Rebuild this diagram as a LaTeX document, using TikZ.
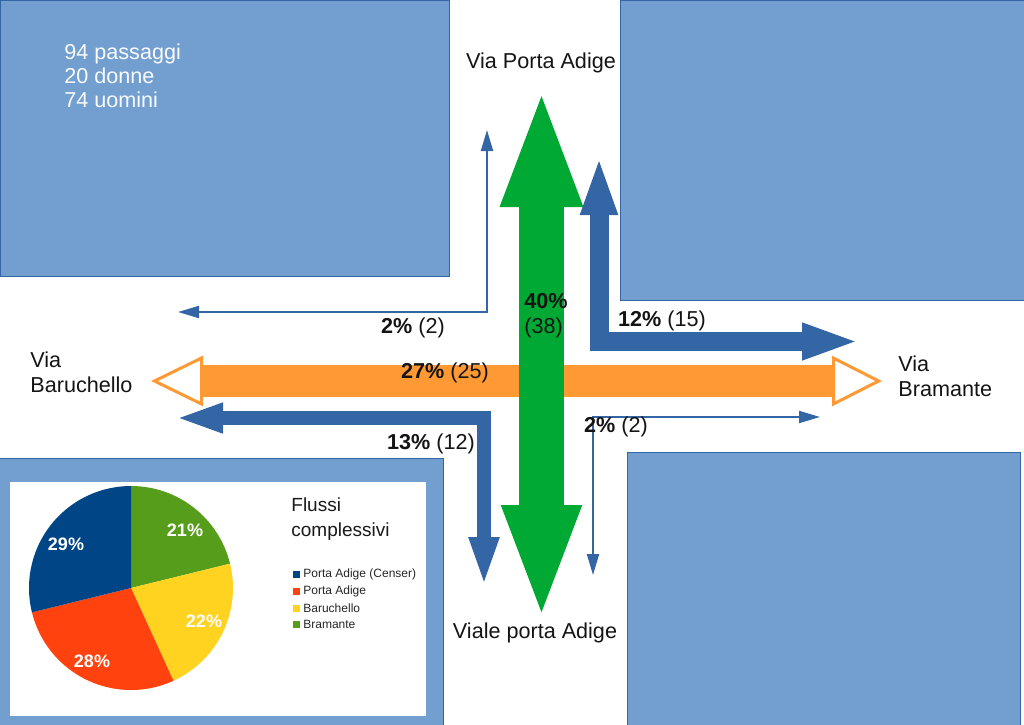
\documentclass[tikz,border=0pt]{standalone}
\usepackage{fontspec}
\setmainfont{Liberation Sans}
\usetikzlibrary{arrows.meta}

\definecolor{blockblue}{HTML}{729FCF}
\definecolor{edgeblue}{HTML}{3465A4}
\definecolor{flowblue}{HTML}{3465A4}
\definecolor{floworange}{HTML}{FF9933}
\definecolor{flowgreen}{HTML}{00A933}
\definecolor{pieblue}{HTML}{004586}
\definecolor{piered}{HTML}{FF420E}
\definecolor{pieyellow}{HTML}{FFD320}
\definecolor{piegreen}{HTML}{579D1C}

\begin{document}
\begin{tikzpicture}[x=0.5pt,y=-0.5pt,
    block/.style={fill=blockblue,draw=edgeblue,line width=0.5pt},
    street/.style={inner sep=0pt,align=left,text=black!92,font=\fontsize{10.8}{12.5}\selectfont},
    share/.style={inner sep=0pt,align=left,text=black!92,font=\fontsize{10.8}{12.5}\selectfont},
    slice/.style={inner sep=0pt,text=white,font=\fontsize{9}{10}\selectfont\bfseries},
    key/.style={inner sep=0pt,anchor=west,text=black!85,font=\fontsize{6}{7}\selectfont},
    thinflow/.style={draw=flowblue,line width=1pt,line join=miter,
      {Triangle[length=10.5pt,width=6pt]}-{Triangle[length=10.5pt,width=6pt]}}]
  \useasboundingbox (0,0) rectangle (1024,724);

  % blocks
  \path[block] (0,0) rectangle (449,276);
  \path[block] (620,0) rectangle (1030,300);
  \path[block] (627,452) rectangle (1020,730);
  \path[block] (-5,458) rectangle (443,730);
  \node[inner sep=0pt,anchor=west,align=left,text=white!96!blockblue,
    font=\fontsize{10.8}{12}\selectfont] (tot) at (64,76)
    {94 passaggi\\20 donne\\74 uomini};

  % pie chart
  \fill[white] (10,482) rectangle (426,716);
  \foreach \a/\b/\c in {-90/-13.8/piegreen,-13.8/65.4/pieyellow,
      65.4/166.2/piered,166.2/270/pieblue}
    \fill[\c] (131,588) -- ++(\a:102) arc[start angle=\a,end angle=\b,radius=102] -- cycle;
  \node[slice] (p1) at (66,544) {29\%};
  \node[slice] (p2) at (185,530) {21\%};
  \node[slice] (p3) at (204,621) {22\%};
  \node[slice] (p4) at (92,661) {28\%};
  \node[inner sep=0pt,anchor=west,align=left,text=black!90,
    font=\fontsize{9.5}{12.5}\selectfont] (title) at (291,519.5) {Flussi\\complessivi};
  \fill[pieblue] (293,571) rectangle (300,578);
  \node[key] (k1) at (303,574) {Porta Adige (Censer)};
  \fill[piered] (293,588) rectangle (300,595);
  \node[key] (k2) at (303,591) {Porta Adige};
  \fill[pieyellow] (293,605) rectangle (300,612);
  \node[key] (k3) at (303,608) {Baruchello};
  \fill[piegreen] (293,621) rectangle (300,628);
  \node[key] (k4) at (303,624.5) {Bramante};

  % flow ends
  \coordinate (ow) at (151,381);
  \coordinate (oe) at (882,381);
  \coordinate (gn) at (541.5,87);
  \coordinate (gs) at (541.5,621);
  \coordinate (an) at (599,155);
  \coordinate (ac) at (599,341.5);
  \coordinate (ae) at (860,341.5);
  \coordinate (bw) at (175,418);
  \coordinate (bc) at (484,418);
  \coordinate (bs) at (484,587);
  \coordinate (cw) at (178,312);
  \coordinate (cc) at (487,312);
  \coordinate (cn) at (487,130);
  \coordinate (de) at (820,417);
  \coordinate (dc) at (593,417);
  \coordinate (ds) at (593,575);

  % flows
  \draw[floworange,line width=16pt,
    {Triangle[open,fill=white,length=26pt,width=25pt,line width=1.5pt]}-{Triangle[open,fill=white,length=25pt,width=25pt,line width=1.5pt]}]
    (ow) -- (oe);
  \draw[flowgreen,line width=22.5pt,
    {Triangle[length=60pt,width=36.5pt]}-{Triangle[length=58pt,width=35.5pt]}] (gn) -- (gs);
  \draw[flowblue,line width=9.5pt,line join=miter,
    {Triangle[length=30pt,width=16.5pt]}-{Triangle[length=29pt,width=16.5pt]}] (an) -- (ac) -- (ae);
  \draw[flowblue,line width=7pt,line join=miter,
    {Triangle[length=24pt,width=13.5pt]}-{Triangle[length=25pt,width=13.5pt]}] (bw) -- (bc) -- (bs);
  \draw[thinflow] (cw) -- (cc) -- (cn);
  \draw[thinflow] (de) -- (dc) -- (ds);

  % streets
  \node[street] (north) at (541,63) {Via Porta Adige};
  \node[street] (south) at (535,633) {Viale porta Adige};
  \node[street,anchor=west] (west) at (30,372.5) {Via\\Baruchello};
  \node[street,anchor=west] (east) at (898,376.5) {Via\\Bramante};

  % shares
  \node[share] (s1) at (413,328) {\textbf{2\%} (2)};
  \node[share] (s2) at (445,373) {\textbf{27\%} (25)};
  \node[share] (s3) at (431,444) {\textbf{13\%} (12)};
  \node[share,anchor=west] (s4) at (524,315.5) {\textbf{40\%}\\(38)};
  \node[share] (s5) at (662,321) {\textbf{12\%} (15)};
  \node[share] (s6) at (616,427) {\textbf{2\%} (2)};
\end{tikzpicture}
\end{document}
